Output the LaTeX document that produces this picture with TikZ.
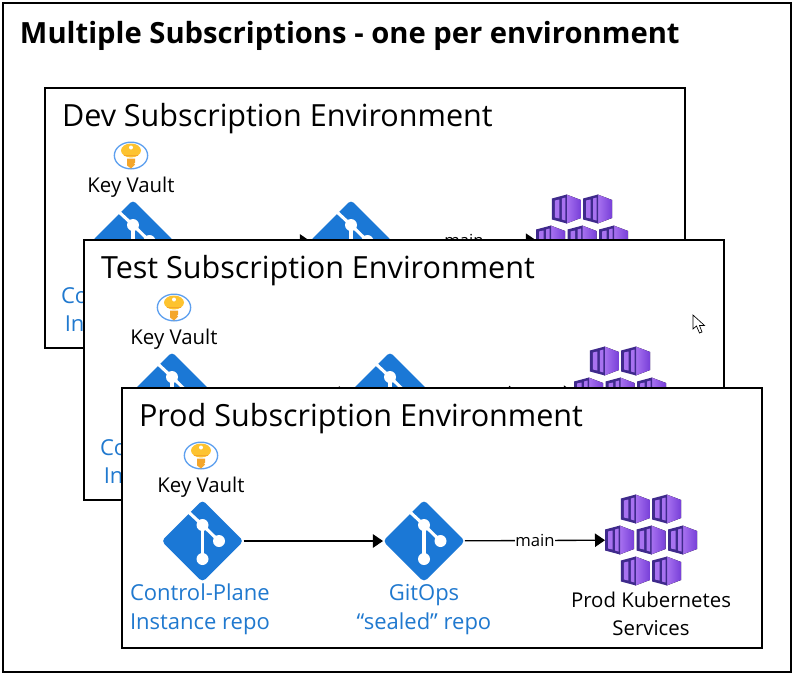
\documentclass[tikz,border=0pt]{standalone}
\usepackage{fontspec}
\setmainfont{Open Sans}
\usetikzlibrary{positioning,shapes.geometric,arrows.meta}
\definecolor{gitblue}{HTML}{1B78D6}
\definecolor{linkblue}{HTML}{2079CF}
\definecolor{keyring}{HTML}{5EA0EF}
\definecolor{keygold}{HTML}{FDC32F}
\definecolor{keyshaft}{HTML}{F4A62A}
\definecolor{cubedark}{HTML}{3F2A8C}
\definecolor{cubelight}{HTML}{A872F0}
\definecolor{cubeside}{HTML}{773FD8}
\begin{document}
\begin{tikzpicture}[x=0.75pt,y=-0.75pt]
	\tikzstyle{all} = [inner sep=0pt, outer sep=0pt]
	\tikzstyle{frame} = [draw=black, line width=1.5pt, fill=white]
	\tikzstyle{heading} = [all, anchor=west, font=\fontsize{22.9}{27}\selectfont]
	\tikzstyle{envbox} = [all, frame, rectangle, anchor=north west, minimum width=480pt, minimum height=195pt]
	\tikzstyle{gitnode} = [all, diamond, fill=gitblue, minimum width=61.5pt, minimum height=61.5pt, rounded corners=3pt]
	\tikzstyle{kubenode} = [all, minimum width=69pt, minimum height=69pt]
	\tikzstyle{keynode} = [all, ellipse, draw=keyring, line width=1pt, fill=white, minimum width=25pt, minimum height=20pt]
	\tikzstyle{plain} = [all, align=center, font=\fontsize{15.3}{21}\selectfont]
	\tikzstyle{repo} = [all, align=center, text=linkblue, font=\fontsize{16.5}{21.7}\selectfont]
	\tikzstyle{link} = [draw=black, line width=1pt, -{Triangle[length=7.5pt,width=10pt]}]
	\tikzset{
		keyicon/.pic={
			\fill[keyshaft] (-4,3) -- (4,3) -- (4,7) -- (3,8) -- (4,9) -- (2,11) -- (0,13) -- (-4,10) -- cycle;
			\fill[keygold] (0,-5) ellipse (10 and 7);
			\fill[keyshaft] (-7,-1) rectangle (7,0);
			\fill[white] (0,-8) circle (2);
		},
		giticon/.pic={
			\draw[white, line width=2.3pt] (-14,-29) -- (0,-16) -- (16.5,0);
			\draw[white, line width=2.3pt] (0,-16) -- (0,18);
			\fill[white] (0,-16) circle (6) (16.5,0) circle (6) (0,18) circle (6);
		},
		cube/.pic={
			\fill[left color=cubelight, right color=cubeside] (0,-14.5) -- (14.5,-9) -- (14.5,9) -- (0,14.5) -- cycle;
			\fill[cubedark] (-14.5,-10.5) -- (0.5,-14.5) -- (0.5,14.5) -- (-14.5,10.5) -- cycle;
			\fill[cubelight] (-11.5,-8.5) -- (-7,-9.5) -- (-7,9.5) -- (-11.5,8.5) -- cycle;
			\fill[cubelight] (-4.5,-10.5) -- (-1,-11.5) -- (-1,11.5) -- (-4.5,10.5) -- cycle;
		},
		kubeicon/.pic={
			\foreach \cx/\cy in {-15.6/-31,15.6/-31,-31.5/0,0/0,31.5/0,-15.6/31,15.6/31}
				\pic at (\cx,\cy) {cube};
		}
	}
	\useasboundingbox (0,0) rectangle (797,675);
	\node[all, frame, rectangle, anchor=north west, minimum width=591pt, minimum height=502pt] (outer) at (3,3) {};
	\node[all, anchor=west, font=\bfseries\fontsize{21.9}{26}\selectfont] (maintitle) at (20,36) {Multiple Subscriptions - one per environment};
	\foreach \envname/\envlabel/\envx/\envy/\gitax/\gitbx/\kubex/\keyx/\repox/\repotext in {
		dev/Dev/45/88/88/306/537/86/16/{Co\\In},
		test/Test/84/240/88/306/536/90/16/{Co\\In},
		prod/Prod/122/388/80.5/302/529/79/8/{Control-Plane\\Instance repo}} {
		\node[envbox] (\envname-box) at (\envx,\envy) {};
		\node[heading] (\envname-title) at (\envx+17,\envy+31) {\envlabel{} Subscription Environment};
		\node[keynode] (\envname-key) at (\envx+\keyx,\envy+67.5) {};
		\pic at (\envname-key) {keyicon};
		\node[plain, below=6pt of \envname-key] (\envname-vault) {Key Vault};
		\node[gitnode] (\envname-control) at (\envx+\gitax,\envy+153) {};
		\pic at (\envname-control) {giticon};
		\node[gitnode] (\envname-gitops) at (\envx+\gitbx,\envy+153) {};
		\pic at (\envname-gitops) {giticon};
		\node[kubenode] (\envname-kube) at (\envx+\kubex,\envy+152) {};
		\pic at (\envname-kube) {kubeicon};
		\node[repo, anchor=west] (\envname-repo) at (\envx+\repox,\envy+221.5) {\repotext};
		\draw[link] (\envname-control) -- (\envname-gitops);
		\draw[link] (\envname-gitops) -- node[all, fill=white, inner xsep=0.5pt, font=\fontsize{12.5}{15}\selectfont] (\envname-main) {main} (\envname-kube);
	}
	\node[repo] (prod-sealed) at (424,609.5) {GitOps\\“sealed” repo};
	\node[plain] (prod-services) at (651,614) {Prod Kubernetes\\Services};
	\draw[draw=black, fill=white, line width=0.5pt] (693,315) -- (693,329) -- (696.5,326) -- (699.5,333) -- (702,332) -- (699.5,325.5) -- (704.5,325.5) -- cycle;
	\end{tikzpicture}
\end{document}
